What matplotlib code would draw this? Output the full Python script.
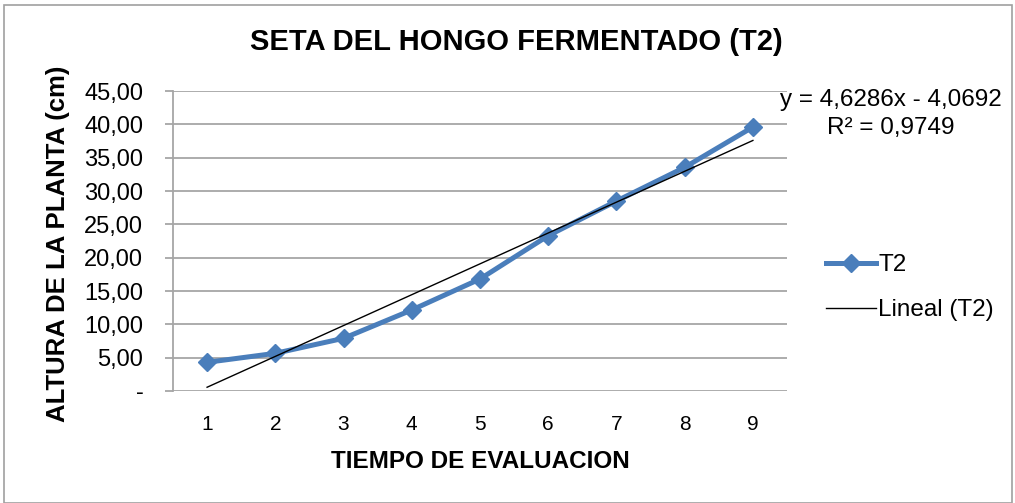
import numpy as np
import matplotlib.pyplot as plt
import matplotlib
from matplotlib.patches import Rectangle

matplotlib.rcParams['font.family'] = ['Liberation Sans', 'DejaVu Sans']

tiempo = [1, 2, 3, 4, 5, 6, 7, 8, 9]
altura_t2 = [4.30, 5.65, 7.90, 12.15, 16.80, 23.30, 28.50, 33.55, 39.60]
pendiente = 4.6286
intercepto = -4.0692
r2 = 0.9749
yticks = [0, 5, 10, 15, 20, 25, 30, 35, 40, 45]

blue = '#4A7EBB'
grid = '#A6A6A6'

fig = plt.figure(figsize=(10.15, 5.03), dpi=100)
ax = fig.add_axes([0.1704, 0.2227, 0.6050, 0.5963])

# borde exterior del grafico
fig.patches.append(Rectangle((4 / 1015, 0), 1008 / 1015, 498 / 503,
                             transform=fig.transFigure, fill=False,
                             edgecolor='#A0A0A0', linewidth=1.2))

x = np.array(tiempo)
ax.plot(x, altura_t2, color=blue, linewidth=3.6, marker='D',
        markersize=9.5, label='T2', zorder=3)
ax.plot(x, pendiente * x + intercepto, color='black', linewidth=1.0,
        label='Lineal (T2)', zorder=4)

ax.set_xlim(0.5, 9.5)
ax.set_ylim(0, 45)
ax.set_yticks(yticks)
ax.set_yticklabels(['-' if v == 0 else ('%.2f' % v).replace('.', ',') for v in yticks],
                   fontsize=17)
ax.set_xticks(tiempo)
ax.set_xticklabels([str(t) for t in tiempo], fontsize=15)
ax.grid(axis='y', color=grid, linewidth=1.3)
ax.set_axisbelow(True)
for s in ['top', 'right', 'bottom']:
    ax.spines[s].set_visible(False)
ax.spines['left'].set_color(grid)
ax.spines['left'].set_linewidth(1.3)
ax.tick_params(axis='y', length=5.8, color=grid, width=1.3, pad=15.5)
ax.tick_params(axis='x', length=0, pad=17)

fig.text(516 / 1015, 1 - 42 / 503, 'SETA DEL HONGO FERMENTADO (T2)', fontsize=21,
         fontweight='bold', ha='center', va='center')
ax.set_xlabel('TIEMPO DE EVALUACION', fontsize=17.5, fontweight='bold', labelpad=12)
ax.set_ylabel('ALTURA DE LA PLANTA (cm)', fontsize=18.5, fontweight='bold')
ax.yaxis.set_label_coords(-0.168, 0.49)

eq = 'y = %sx - %s' % (('%.4f' % pendiente).replace('.', ','),
                       ('%.4f' % abs(intercepto)).replace('.', ','))
fig.text(891 / 1015, 1 - 100 / 503, eq, fontsize=17.5, ha='center', va='center')
fig.text(891 / 1015, 1 - 128 / 503, 'R² = ' + ('%.4f' % r2).replace('.', ','),
         fontsize=17.5, ha='center', va='center')

fig.legend(loc='upper left', bbox_to_anchor=(826 / 1015, 1 - 254 / 503),
           frameon=False, fontsize=17.5, handlelength=2.05, handletextpad=0.1,
           labelspacing=0.95, borderpad=0, borderaxespad=0)

fig.savefig('out.png', dpi=100)
